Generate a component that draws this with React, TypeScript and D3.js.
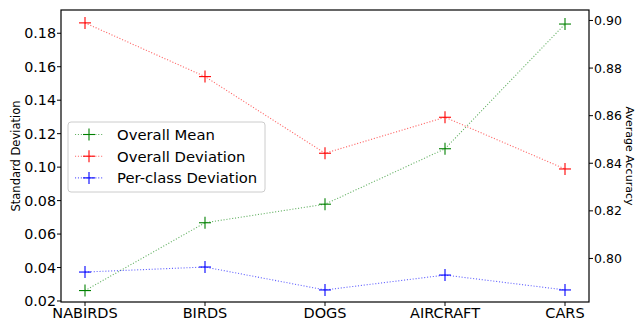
import React from "react";
import * as d3 from "d3";

const categories = ["NABIRDS", "BIRDS", "DOGS", "AIRCRAFT", "CARS"];
const overallMean = [0.7865, 0.815, 0.8228, 0.8461, 0.8985];
const overallDeviation = [0.1862, 0.1541, 0.1083, 0.1298, 0.0989];
const perClassDeviation = [0.0373, 0.0403, 0.0266, 0.0355, 0.0266];
const leftTicks = [0.02, 0.04, 0.06, 0.08, 0.1, 0.12, 0.14, 0.16, 0.18];
const rightTicks = [0.8, 0.82, 0.84, 0.86, 0.88, 0.9];

const W = 636, H = 319;
const L = 61, R = 589, T = 10, B = 302;
const FONT = "DejaVu Sans, sans-serif";

export default function App() {
  const x = d3.scalePoint<string>().domain(categories).range([L, R]).padding(0.2);
  const yL = d3.scaleLinear().domain([0.0194, 0.1939]).range([B, T]);
  const yR = d3.scaleLinear().domain([0.7817, 0.9044]).range([B, T]);

  const series = [
    { name: "Overall Mean", color: "#008000", vals: overallMean, y: yR },
    { name: "Overall Deviation", color: "#ff0000", vals: overallDeviation, y: yL },
    { name: "Per-class Deviation", color: "#0000ff", vals: perClassDeviation, y: yL },
  ];

  const plus = (cx: number, cy: number, color: string, key: string) => (
    <g key={key} stroke={color} strokeWidth={1.1}>
      <line x1={cx - 6} x2={cx + 6} y1={cy} y2={cy} />
      <line x1={cx} x2={cx} y1={cy - 6} y2={cy + 6} />
    </g>
  );

  return (
    <svg width={W} height={H} style={{ position: "absolute", left: 0, top: 0 }} fontFamily={FONT}>
      <rect width={W} height={H} fill="#fff" />
      {series.map((s) => {
        const line = d3
          .line<number>()
          .x((_, i) => x(categories[i])!)
          .y((v) => s.y(v));
        return (
          <g key={s.name}>
            <path d={line(s.vals)!} fill="none" stroke={s.color} strokeOpacity={0.6} strokeWidth={1.1} strokeDasharray="1.1,1.8" />
            {s.vals.map((v, i) => plus(x(categories[i])!, s.y(v), s.color, s.name + i))}
          </g>
        );
      })}
      <rect x={L} y={T} width={R - L} height={B - T} fill="none" stroke="#000" strokeWidth={1.2} />
      {leftTicks.map((t) => (
        <g key={"l" + t}>
          <line x1={L - 4} x2={L} y1={yL(t)} y2={yL(t)} stroke="#000" />
          <text x={L - 5} y={yL(t)} dy="0.36em" textAnchor="end" fontSize={14.3}>
            {t.toFixed(2)}
          </text>
        </g>
      ))}
      {rightTicks.map((t) => (
        <g key={"r" + t}>
          <line x1={R} x2={R + 4} y1={yR(t)} y2={yR(t)} stroke="#000" />
          <text x={R + 5} y={yR(t)} dy="0.36em" textAnchor="start" fontSize={12.5}>
            {t.toFixed(2)}
          </text>
        </g>
      ))}
      {categories.map((c) => (
        <g key={c}>
          <line x1={x(c)!} x2={x(c)!} y1={B} y2={B + 4} stroke="#000" />
          <text x={x(c)!} y={B + 15.5} textAnchor="middle" fontSize={14.5}>
            {c}
          </text>
        </g>
      ))}
      <text transform={`translate(20,${(T + B) / 2}) rotate(-90)`} textAnchor="middle" fontSize={11.5}>
        Standard Deviation
      </text>
      <text transform={`translate(626,${(T + B) / 2}) rotate(90)`} textAnchor="middle" fontSize={11}>
        Average Accuracy
      </text>
      <g>
        <rect x={68} y={122} width={197} height={70} rx={3} fill="#fff" fillOpacity={0.8} stroke="#cccccc" />
        {series.map((s, i) => {
          const cy = 134.5 + i * 21.7;
          return (
            <g key={"lg" + s.name}>
              <line x1={75} x2={103} y1={cy} y2={cy} stroke={s.color} strokeOpacity={0.6} strokeWidth={1.1} strokeDasharray="1.1,1.8" />
              {plus(89, cy, s.color, "lgp" + i)}
              <text x={117} y={cy} dy="0.36em" fontSize={14.8}>
                {s.name}
              </text>
            </g>
          );
        })}
      </g>
    </svg>
  );
}
